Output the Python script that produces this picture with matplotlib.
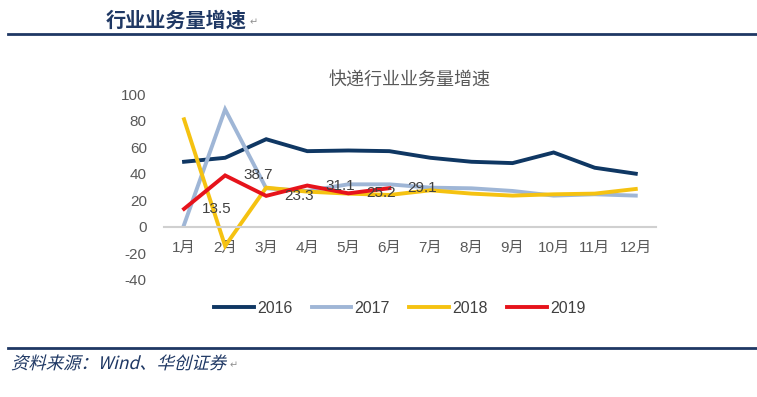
import matplotlib.pyplot as plt
from matplotlib.lines import Line2D
from matplotlib.textpath import TextPath
from matplotlib.patches import PathPatch
from matplotlib.font_manager import FontProperties
from matplotlib.transforms import Affine2D, IdentityTransform

plt.rcParams['font.family'] = ['Liberation Sans', 'Noto Sans CJK SC', 'DejaVu Sans']
plt.rcParams['axes.unicode_minus'] = False

months = ['1月', '2月', '3月', '4月', '5月', '6月', '7月', '8月', '9月', '10月', '11月', '12月']
y2016 = [49, 52, 66, 57, 57.5, 57, 52, 49, 48, 56, 44.5, 40]
y2017 = [1.5, 88.5, 29, 27, 32, 32, 29.5, 29, 27, 23.5, 24.5, 23.5]
y2018 = [81, -14.5, 29.5, 26.5, 25, 24, 27.5, 25, 23.5, 24.5, 25, 28.5]
y2019 = [13.5, 38.7, 23.3, 31.1, 25.2, 29.1]
years = ['2016', '2017', '2018', '2019']
colors = ['#0f3763', '#9fb6d6', '#f5c211', '#e6131b']

fig = plt.figure(figsize=(7.57, 3.97), dpi=100)
ax = fig.add_axes([0.216, 0.295, 0.651, 0.468])

x = list(range(len(months)))
for ys, c in zip([y2016, y2017, y2018, y2019], colors):
    ax.plot(x[:len(ys)], ys, color=c, lw=2.8, solid_joinstyle='miter')

for i, v in enumerate(y2019):
    ax.annotate(f'{v:.1f}', (i, v), xytext=(33, 0), textcoords='offset pixels',
                ha='center', va='center', fontsize=11, color='#404040')

ax.set_xlim(-0.5, 11.5)
ax.set_ylim(-40, 100)
ax.set_yticks(range(-40, 101, 20))
ax.set_xticks(x)
ax.set_xticklabels(months)
for s in ['top', 'right', 'left']:
    ax.spines[s].set_visible(False)
ax.spines['bottom'].set_position(('data', 0))
ax.spines['bottom'].set_color('#d0d0d0')
ax.spines['bottom'].set_linewidth(1.5)
ax.tick_params(axis='both', length=0, labelsize=11, colors='#595959')
ax.tick_params(axis='x', pad=10)
ax.tick_params(axis='y', pad=12)

ax.set_title('快递行业业务量增速', fontsize=13, color='#595959', pad=7)

handles = [Line2D([], [], color=c, lw=2.8) for c in colors]
fig.legend(handles, years, loc='center', bbox_to_anchor=(0.528, 0.224), ncol=4,
           frameon=False, fontsize=11.5, handlelength=2.5, handletextpad=0.2,
           columnspacing=1.2, labelcolor='#404040')

# header / footer
fig.add_artist(Line2D([0.011, 1], [0.914, 0.914], color='#1f3864', lw=2))
fig.add_artist(Line2D([0.011, 1], [0.123, 0.123], color='#1f3864', lw=2))
fig.text(0.139, 0.95, '行业业务量增速', fontsize=14.5, fontweight='bold',
         color='#1f3864', va='center', family=['Noto Sans CJK SC'])
fig.text(250 / 757, 0.943, '↵', fontsize=7, color='#909090', va='center', family=['DejaVu Sans'])

# italic footer drawn as a skewed text path
tp = TextPath((0, 0), '资料来源：Wind、华创证券', size=12.5,
              prop=FontProperties(family='Noto Sans CJK SC'))
tr = Affine2D().skew_deg(14, 0).scale(100 / 72).translate(11, 28)
foot = tr.transform_path(tp)
fig.add_artist(PathPatch(foot, transform=IdentityTransform(),
                         facecolor='#1f3864', edgecolor='none'))
fig.text((foot.get_extents().x1 + 2) / 757, 0.08, '↵', fontsize=7, color='#909090',
         va='center', family=['DejaVu Sans'])

fig.savefig('out.png', dpi=100)
